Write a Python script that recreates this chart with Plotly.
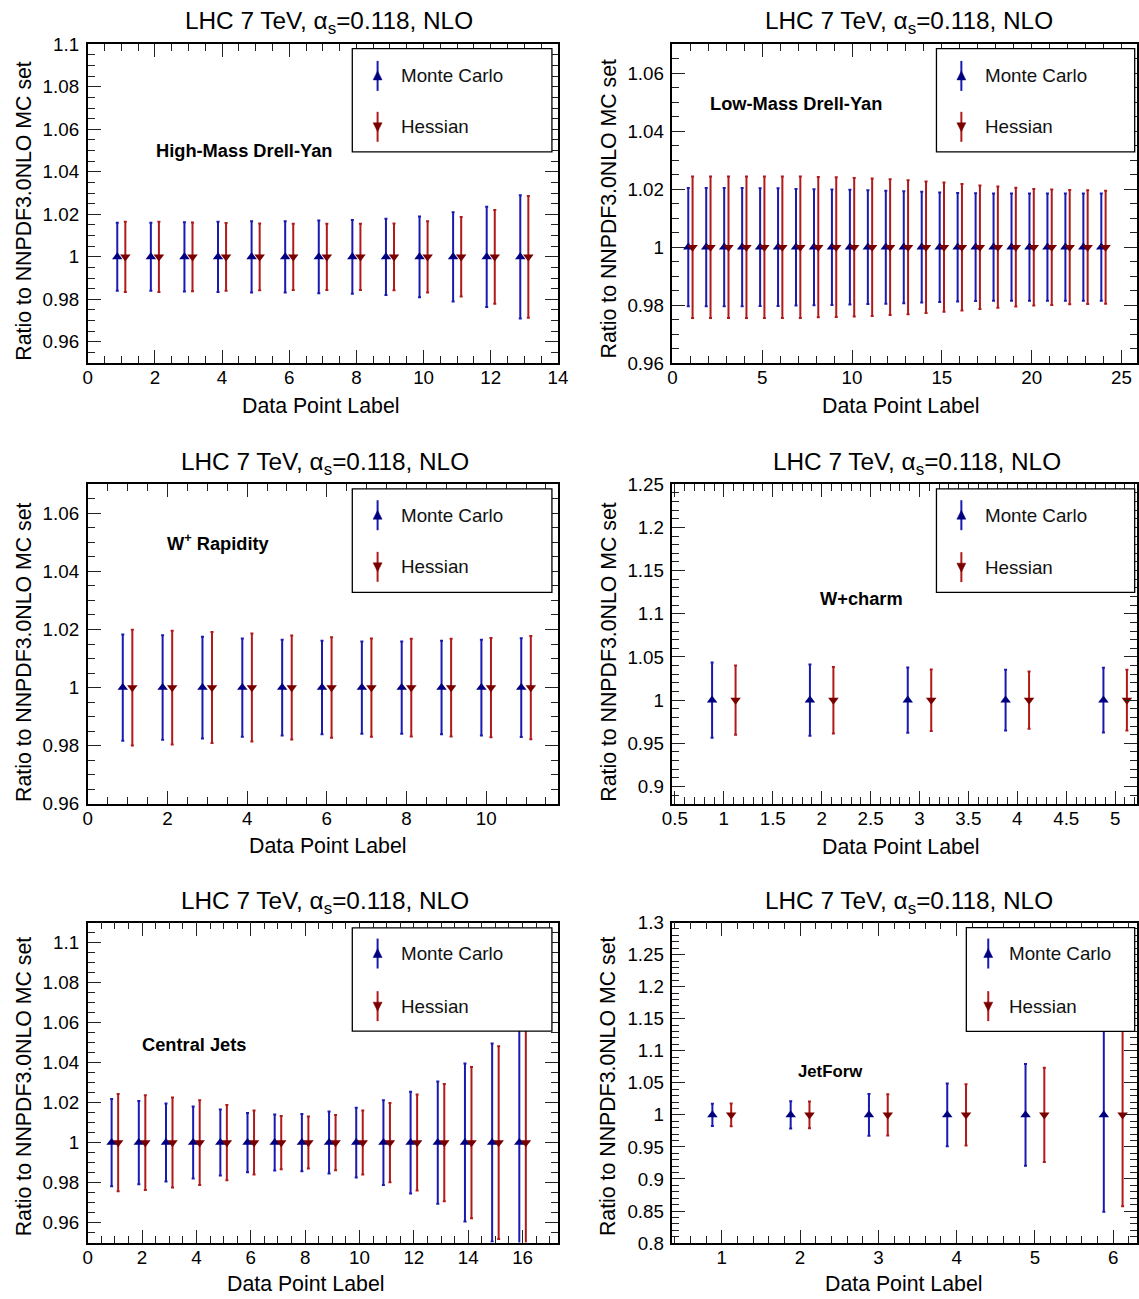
import plotly.graph_objects as go

# ---------------- data ----------------
series_names = ["Monte Carlo", "Hessian"]

hmdy_points = [1, 2, 3, 4, 5, 6, 7, 8, 9, 10, 11, 12, 13]
hmdy_mc_val = [1.0, 1.0, 1.0, 1.0, 1.0, 1.0, 1.0, 1.0, 1.0, 1.0, 1.0, 1.0, 1.0]
hmdy_mc_err = [0.016, 0.016, 0.0163, 0.0165, 0.0168, 0.0168, 0.0171, 0.0173, 0.0179, 0.019, 0.021, 0.0236, 0.029]
hmdy_h_val = [1.0, 1.0, 1.0, 1.0, 1.0, 1.0, 1.0, 1.0, 1.0, 1.0, 1.0, 1.0, 1.0]
hmdy_h_err = [0.0165, 0.0165, 0.0162, 0.0159, 0.0157, 0.0156, 0.0156, 0.0156, 0.0157, 0.0168, 0.0187, 0.022, 0.0286]

lmdy_points = [1, 2, 3, 4, 5, 6, 7, 8, 9, 10, 11, 12, 13, 14, 15, 16, 17, 18, 19, 20, 21, 22, 23, 24]
lmdy_mc_val = [1.0, 1.0, 1.0, 1.0, 1.0, 1.0, 1.0, 1.0, 1.0, 1.0, 1.0, 1.0,
               1.0, 1.0, 1.0, 1.0, 1.0, 1.0, 1.0, 1.0, 1.0, 1.0, 1.0, 1.0]
lmdy_mc_err = [0.0204, 0.0204, 0.0204, 0.0204, 0.0203, 0.0203, 0.0201, 0.0200, 0.0199, 0.0198, 0.0196, 0.0195,
               0.0193, 0.0191, 0.0189, 0.0187, 0.0186, 0.0185, 0.0185, 0.0185, 0.0185, 0.0185, 0.0185, 0.0185]
lmdy_h_val = [1.0, 1.0, 1.0, 1.0, 1.0, 1.0, 1.0, 1.0, 1.0, 1.0, 1.0, 1.0,
              1.0, 1.0, 1.0, 1.0, 1.0, 1.0, 1.0, 1.0, 1.0, 1.0, 1.0, 1.0]
lmdy_h_err = [0.0244, 0.0244, 0.0244, 0.0244, 0.0244, 0.0244, 0.0244, 0.0242, 0.0241, 0.0239, 0.0237, 0.0234,
              0.0231, 0.0227, 0.0223, 0.0218, 0.0213, 0.0209, 0.0205, 0.0201, 0.0199, 0.0197, 0.0196, 0.0195]

wp_points = [1, 2, 3, 4, 5, 6, 7, 8, 9, 10, 11]
wp_mc_val = [1.0, 1.0, 1.0, 1.0, 1.0, 1.0, 1.0, 1.0, 1.0, 1.0, 1.0]
wp_mc_err = [0.0183, 0.018, 0.0175, 0.0169, 0.0165, 0.0161, 0.0159, 0.0159, 0.0161, 0.0165, 0.017]
wp_h_val = [1.0, 1.0, 1.0, 1.0, 1.0, 1.0, 1.0, 1.0, 1.0, 1.0, 1.0]
wp_h_err = [0.0199, 0.0196, 0.0191, 0.0186, 0.0179, 0.0173, 0.0169, 0.0168, 0.0168, 0.0171, 0.0178]

wc_points = [1, 2, 3, 4, 5]
wc_mc_val = [1.0, 1.0, 1.0, 1.0, 1.0]
wc_mc_err = [0.0435, 0.0412, 0.0379, 0.0352, 0.0375]
wc_h_val = [1.0, 1.0, 1.0, 1.0, 1.0]
wc_h_err = [0.0402, 0.0385, 0.0356, 0.0331, 0.0352]

cj_points = [1, 2, 3, 4, 5, 6, 7, 8, 9, 10, 11, 12, 13, 14, 15, 16]
cj_mc_val = [1.0, 1.0, 1.0, 1.0, 1.0, 1.0, 1.0, 1.0, 1.0, 1.0, 1.0, 1.0, 1.0, 1.0, 1.0, 1.0]
cj_mc_err = [0.0218, 0.0208, 0.0195, 0.018, 0.0165, 0.0148, 0.014, 0.0143, 0.0155, 0.0174, 0.0212, 0.0254,
             0.0306, 0.0395, 0.0495, 0.065]
cj_h_val = [1.0, 1.0, 1.0, 1.0, 1.0, 1.0, 1.0, 1.0, 1.0, 1.0, 1.0, 1.0, 1.0, 1.0, 1.0, 1.0]
cj_h_err = [0.0243, 0.0237, 0.0225, 0.0212, 0.0188, 0.016, 0.0133, 0.013, 0.0138, 0.016, 0.0198, 0.024,
            0.0293, 0.0378, 0.0482, 0.063]

jf_points = [1, 2, 3, 4, 5, 6]
jf_mc_val = [1.0, 1.0, 1.0, 1.0, 1.0, 1.0]
jf_mc_err = [0.0173, 0.0213, 0.0325, 0.049, 0.0795, 0.151]
jf_h_val = [1.0, 1.0, 1.0, 1.0, 1.0, 1.0]
jf_h_err = [0.0177, 0.021, 0.032, 0.0476, 0.0737, 0.1426]

panel_labels = ["High-Mass Drell-Yan", "Low-Mass Drell-Yan", "W<sup>+</sup> Rapidity",
                "W+charm", "Central Jets", "JetForw"]

TITLE = "LHC 7 TeV, α<sub>s</sub>=0.118, NLO"
XTITLE = "Data Point Label"
YTITLE = "Ratio to NNPDF3.0NLO MC set"

# ---------------- styling / layout ----------------
FONT = "Liberation Sans, Arial, Helvetica, sans-serif"
W, H = 1150, 1310          # figure size
OX, OY, S = 9.0, 9.0, 0.9855  # observed page -> picture mapping of the viewer

MC_MARK, MC_BAR = "#000080", "#1a1ab0"
H_MARK, H_BAR = "#7a0000", "#b01a1a"
DX = 0.12


def fx(p):
    return ((p - OX) / S) / W


def fy(p):
    return 1 - ((p - OY) / S) / H


def fs(v):
    return v / S


panels = [
    dict(pts=hmdy_points, mc=hmdy_mc_val, mce=hmdy_mc_err, h=hmdy_h_val, he=hmdy_h_err,
         xr=[0, 14], yr=[0.95, 1.1], xdt=2, xmn=0.5, ydt=0.02, ymn=0.005,
         frame=(86, 558, 43.3, 362.7), title=(328, 21.5), xt=(320, 406), yt=(22, 210),
         lab=(243, 150, 18), leg=(351.6, 552, 47.7, 151, 377, 398.5, 75, 126)),
    dict(pts=lmdy_points, mc=lmdy_mc_val, mce=lmdy_mc_err, h=lmdy_h_val, he=lmdy_h_err,
         xr=[0, 25.85], yr=[0.96, 1.07], xdt=5, xmn=1, ydt=0.02, ymn=0.005,
         frame=(673, 1139, 43.3, 362.7), title=(910, 21.5), xt=(902, 406), yt=(609, 208),
         lab=(797, 103, 18), leg=(938, 1137, 47.7, 151, 963, 985, 75, 126)),
    dict(pts=wp_points, mc=wp_mc_val, mce=wp_mc_err, h=wp_h_val, he=wp_h_err,
         xr=[0, 11.8], yr=[0.96, 1.07], xdt=2, xmn=0.5, ydt=0.02, ymn=0.005,
         frame=(86, 558, 484, 804), title=(324, 463), xt=(327, 846), yt=(22, 652),
         lab=(217, 542, 18), leg=(351.6, 552, 488.7, 592.3, 377, 398.5, 515, 566.7)),
    dict(pts=wc_points, mc=wc_mc_val, mce=wc_mc_err, h=wc_h_val, he=wc_h_err,
         xr=[0.475, 5.22], yr=[0.88, 1.25], xdt=0.5, xmn=0.1, ydt=0.05, ymn=0.01,
         frame=(673, 1139, 484, 804), title=(918, 463), xt=(902, 847), yt=(609, 652),
         lab=(863, 598, 18), leg=(938, 1137, 488.7, 592.3, 963, 985, 515, 567)),
    dict(pts=cj_points, mc=cj_mc_val, mce=cj_mc_err, h=cj_h_val, he=cj_h_err,
         xr=[0, 17.3], yr=[0.95, 1.11], xdt=2, xmn=0.5, ydt=0.02, ymn=0.005,
         frame=(86, 558, 923, 1243.5), title=(324, 903), xt=(305, 1285), yt=(22, 1087),
         lab=(193, 1045, 18), leg=(351.6, 552, 928.3, 1031.7, 377, 398.5, 954, 1006.7)),
    dict(pts=jf_points, mc=jf_mc_val, mce=jf_mc_err, h=jf_h_val, he=jf_h_err,
         xr=[0.37, 6.3], yr=[0.8, 1.3], xdt=1, xmn=0.2, ydt=0.05, ymn=0.01,
         frame=(673, 1139, 923, 1244), title=(910, 903), xt=(905, 1285), yt=(609, 1087),
         lab=(832, 1072, 16.5), leg=(968, 1137, 928, 1032, 990, 1008.5, 954, 1006.7)),
]

fig = go.Figure()
shapes = []
annotations = []
layout_axes = {}


def axis_common(dt, mn, rng, dom, anchor, standoff):
    return dict(
        domain=dom, range=rng, anchor=anchor,
        showline=True, linecolor="black", linewidth=1.6, mirror="allticks",
        ticks="inside", ticklen=fs(13), tickwidth=1.2, tickcolor="#222",
        tickmode="linear", tick0=0, dtick=dt, ticklabelstandoff=standoff,
        minor=dict(ticks="inside", ticklen=fs(7), tickwidth=1, tickcolor="#222", dtick=mn, tick0=0,
                   showgrid=False),
        showgrid=False, zeroline=False,
        tickfont=dict(family=FONT, size=fs(18.5), color="black"),
    )


for i, p in enumerate(panels, start=1):
    xa = "x" if i == 1 else f"x{i}"
    ya = "y" if i == 1 else f"y{i}"
    xl, xrr, yt_, yb = p["frame"]
    layout_axes["xaxis" if i == 1 else f"xaxis{i}"] = axis_common(
        p["xdt"], p["xmn"], p["xr"], [fx(xl), min(1.0, fx(xrr))], ya, -3)
    layout_axes["yaxis" if i == 1 else f"yaxis{i}"] = axis_common(
        p["ydt"], p["ymn"], p["yr"], [fy(yb), fy(yt_)], xa, 3)

    xmc = [k - DX for k in p["pts"]]
    xh = [k + DX for k in p["pts"]]
    fig.add_trace(go.Scatter(
        x=xmc, y=p["mc"], mode="markers", xaxis=xa, yaxis=ya, name=series_names[0],
        marker=dict(symbol="triangle-up", size=fs(9), color=MC_MARK),
        error_y=dict(type="data", array=p["mce"], symmetric=True, color=MC_BAR, thickness=2, width=1.5),
        showlegend=False, cliponaxis=True))
    fig.add_trace(go.Scatter(
        x=xh, y=p["h"], mode="markers", xaxis=xa, yaxis=ya, name=series_names[1],
        marker=dict(symbol="triangle-down", size=fs(9), color=H_MARK),
        error_y=dict(type="data", array=p["he"], symmetric=True, color=H_BAR, thickness=2, width=1.5),
        showlegend=False, cliponaxis=True))

    tx, ty = p["title"]
    annotations.append(dict(text=TITLE, x=fx(tx), y=fy(ty), xref="paper", yref="paper",
                            xanchor="center", yanchor="middle", showarrow=False,
                            font=dict(family=FONT, size=fs(24), color="black")))
    ax_, ay_ = p["xt"]
    annotations.append(dict(text=XTITLE, x=fx(ax_), y=fy(ay_), xref="paper", yref="paper",
                            xanchor="center", yanchor="middle", showarrow=False,
                            font=dict(family=FONT, size=fs(21), color="black")))
    bx, by = p["yt"]
    annotations.append(dict(text=YTITLE, x=fx(bx), y=fy(by), xref="paper", yref="paper",
                            xanchor="center", yanchor="middle", showarrow=False, textangle=-90,
                            font=dict(family=FONT, size=fs(21), color="black")))
    lx, ly, ls = p["lab"]
    annotations.append(dict(text="<b>" + panel_labels[i - 1] + "</b>", x=fx(lx), y=fy(ly),
                            xref="paper", yref="paper", xanchor="center", yanchor="middle",
                            showarrow=False, font=dict(family=FONT, size=fs(ls), color="black")))

    gx0, gx1, gy0, gy1, mx, txl, r1, r2 = p["leg"]
    shapes.append(dict(type="rect", xref="paper", yref="paper", x0=fx(gx0), x1=fx(gx1),
                       y0=fy(gy1), y1=fy(gy0), fillcolor="white",
                       line=dict(color="black", width=1.3), layer="above"))
    for row, name, bar, mark, up in ((r1, series_names[0], MC_BAR, MC_MARK, True),
                                     (r2, series_names[1], H_BAR, H_MARK, False)):
        shapes.append(dict(type="line", xref="paper", yref="paper", x0=fx(mx), x1=fx(mx),
                           y0=fy(row + 15), y1=fy(row - 15), line=dict(color=bar, width=2), layer="above"))
        if up:
            path = (f"M {fx(mx - 4.5)},{fy(row + 4)} L {fx(mx + 4.5)},{fy(row + 4)} "
                    f"L {fx(mx)},{fy(row - 5)} Z")
        else:
            path = (f"M {fx(mx - 4.5)},{fy(row - 4)} L {fx(mx + 4.5)},{fy(row - 4)} "
                    f"L {fx(mx)},{fy(row + 5)} Z")
        shapes.append(dict(type="path", xref="paper", yref="paper", path=path,
                           fillcolor=mark, line=dict(color=mark, width=0.5), layer="above"))
        annotations.append(dict(text=name, x=fx(txl), y=fy(row), xref="paper", yref="paper",
                                xanchor="left", yanchor="middle", showarrow=False,
                                font=dict(family=FONT, size=fs(18.5), color="#111")))

fig.update_layout(
    width=W, height=H, margin=dict(l=0, r=0, t=0, b=0),
    paper_bgcolor="white", plot_bgcolor="white", showlegend=False,
    font=dict(family=FONT, color="black"),
    shapes=shapes, annotations=annotations, **layout_axes,
)

fig.write_html("out.html", config={"displayModeBar": False},
               post_script="document.body.style.margin='0';document.body.style.padding='0';"
                           "document.documentElement.style.overflow='hidden';")
